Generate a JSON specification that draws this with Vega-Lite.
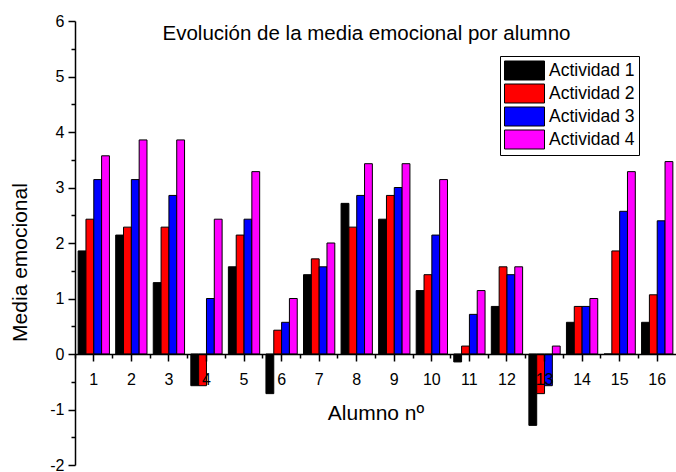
{
  "$schema": "https://vega.github.io/schema/vega-lite/v6.json",
  "width": 601,
  "height": 444,
  "autosize": {"type": "none"},
  "padding": {"left": 75, "top": 21, "right": 0, "bottom": 7},
  "background": "white",
  "config": {
    "view": {"stroke": null},
    "font": "Liberation Sans",
    "axis": {
      "grid": false,
      "domainColor": "black",
      "tickColor": "black",
      "labelColor": "black",
      "titleColor": "black",
      "labelFont": "Liberation Sans",
      "titleFont": "Liberation Sans",
      "titleFontWeight": "normal"
    }
  },
  "title": {
    "text": "Evolución de la media emocional por alumno",
    "font": "Liberation Sans",
    "fontSize": 20.5,
    "fontWeight": "normal",
    "color": "black",
    "anchor": "middle",
    "frame": "group",
    "dx": -9,
    "offset": 0,
    "baseline": "alphabetic",
    "dy": 47
  },
  "data": {
    "values": [
      {"alumno": 1, "actividad": "Actividad 1", "media": 1.857},
      {"alumno": 1, "actividad": "Actividad 2", "media": 2.429},
      {"alumno": 1, "actividad": "Actividad 3", "media": 3.143},
      {"alumno": 1, "actividad": "Actividad 4", "media": 3.571},
      {"alumno": 2, "actividad": "Actividad 1", "media": 2.143},
      {"alumno": 2, "actividad": "Actividad 2", "media": 2.286},
      {"alumno": 2, "actividad": "Actividad 3", "media": 3.143},
      {"alumno": 2, "actividad": "Actividad 4", "media": 3.857},
      {"alumno": 3, "actividad": "Actividad 1", "media": 1.286},
      {"alumno": 3, "actividad": "Actividad 2", "media": 2.286},
      {"alumno": 3, "actividad": "Actividad 3", "media": 2.857},
      {"alumno": 3, "actividad": "Actividad 4", "media": 3.857},
      {"alumno": 4, "actividad": "Actividad 1", "media": -0.571},
      {"alumno": 4, "actividad": "Actividad 2", "media": -0.571},
      {"alumno": 4, "actividad": "Actividad 3", "media": 1.0},
      {"alumno": 4, "actividad": "Actividad 4", "media": 2.429},
      {"alumno": 5, "actividad": "Actividad 1", "media": 1.571},
      {"alumno": 5, "actividad": "Actividad 2", "media": 2.143},
      {"alumno": 5, "actividad": "Actividad 3", "media": 2.429},
      {"alumno": 5, "actividad": "Actividad 4", "media": 3.286},
      {"alumno": 6, "actividad": "Actividad 1", "media": -0.714},
      {"alumno": 6, "actividad": "Actividad 2", "media": 0.429},
      {"alumno": 6, "actividad": "Actividad 3", "media": 0.571},
      {"alumno": 6, "actividad": "Actividad 4", "media": 1.0},
      {"alumno": 7, "actividad": "Actividad 1", "media": 1.429},
      {"alumno": 7, "actividad": "Actividad 2", "media": 1.714},
      {"alumno": 7, "actividad": "Actividad 3", "media": 1.571},
      {"alumno": 7, "actividad": "Actividad 4", "media": 2.0},
      {"alumno": 8, "actividad": "Actividad 1", "media": 2.714},
      {"alumno": 8, "actividad": "Actividad 2", "media": 2.286},
      {"alumno": 8, "actividad": "Actividad 3", "media": 2.857},
      {"alumno": 8, "actividad": "Actividad 4", "media": 3.429},
      {"alumno": 9, "actividad": "Actividad 1", "media": 2.429},
      {"alumno": 9, "actividad": "Actividad 2", "media": 2.857},
      {"alumno": 9, "actividad": "Actividad 3", "media": 3.0},
      {"alumno": 9, "actividad": "Actividad 4", "media": 3.429},
      {"alumno": 10, "actividad": "Actividad 1", "media": 1.143},
      {"alumno": 10, "actividad": "Actividad 2", "media": 1.429},
      {"alumno": 10, "actividad": "Actividad 3", "media": 2.143},
      {"alumno": 10, "actividad": "Actividad 4", "media": 3.143},
      {"alumno": 11, "actividad": "Actividad 1", "media": -0.143},
      {"alumno": 11, "actividad": "Actividad 2", "media": 0.143},
      {"alumno": 11, "actividad": "Actividad 3", "media": 0.714},
      {"alumno": 11, "actividad": "Actividad 4", "media": 1.143},
      {"alumno": 12, "actividad": "Actividad 1", "media": 0.857},
      {"alumno": 12, "actividad": "Actividad 2", "media": 1.571},
      {"alumno": 12, "actividad": "Actividad 3", "media": 1.429},
      {"alumno": 12, "actividad": "Actividad 4", "media": 1.571},
      {"alumno": 13, "actividad": "Actividad 1", "media": -1.286},
      {"alumno": 13, "actividad": "Actividad 2", "media": -0.714},
      {"alumno": 13, "actividad": "Actividad 3", "media": -0.571},
      {"alumno": 13, "actividad": "Actividad 4", "media": 0.143},
      {"alumno": 14, "actividad": "Actividad 1", "media": 0.571},
      {"alumno": 14, "actividad": "Actividad 2", "media": 0.857},
      {"alumno": 14, "actividad": "Actividad 3", "media": 0.857},
      {"alumno": 14, "actividad": "Actividad 4", "media": 1.0},
      {"alumno": 15, "actividad": "Actividad 1", "media": 0},
      {"alumno": 15, "actividad": "Actividad 2", "media": 1.857},
      {"alumno": 15, "actividad": "Actividad 3", "media": 2.571},
      {"alumno": 15, "actividad": "Actividad 4", "media": 3.286},
      {"alumno": 16, "actividad": "Actividad 1", "media": 0.571},
      {"alumno": 16, "actividad": "Actividad 2", "media": 1.067},
      {"alumno": 16, "actividad": "Actividad 3", "media": 2.4},
      {"alumno": 16, "actividad": "Actividad 4", "media": 3.467}
    ]
  },
  "layer": [
    {
      "mark": {"type": "bar", "stroke": "black", "strokeWidth": 1},
      "encoding": {
        "x": {
          "field": "alumno",
          "type": "ordinal",
          "scale": {"paddingInner": 0, "paddingOuter": 0},
          "axis": {
            "orient": "bottom",
            "offset": -111,
            "title": "Alumno nº",
            "titleFontSize": 21,
            "titleY": 48,
            "labelFontSize": 16,
            "labelAngle": 0,
            "tickSize": 7,
            "labelPadding": 10,
            "domainWidth": 1.5,
            "tickWidth": 1.5,
            "zindex": 1
          }
        },
        "xOffset": {
          "field": "actividad",
          "type": "nominal",
          "scale": {"paddingInner": 0, "paddingOuter": 0.4}
        },
        "y": {
          "field": "media",
          "type": "quantitative",
          "scale": {"domain": [-2, 6], "nice": false, "zero": false},
          "axis": {
            "values": [-2, -1.5, -1, -0.5, 0, 0.5, 1, 1.5, 2, 2.5, 3, 3.5, 4, 4.5, 5, 5.5, 6],
            "labelExpr": "datum.value % 1 == 0 ? '' + datum.value : ''",
            "tickSize": {"expr": "datum.value % 1 == 0 ? 7 : 4"},
            "labelPadding": 4,
            "labelFontSize": 16,
            "labelOverlap": false,
            "labelFlush": false,
            "title": "Media emocional",
            "titleFontSize": 21,
            "titleX": -45,
            "titleY": 241,
            "domainWidth": 1.5,
            "tickWidth": 1.5
          }
        },
        "color": {
          "field": "actividad",
          "type": "nominal",
          "scale": {
            "domain": ["Actividad 1", "Actividad 2", "Actividad 3", "Actividad 4"],
            "range": ["#000000", "#ff0000", "#0000ff", "#ff00ff"]
          },
          "legend": {
            "orient": "none",
            "legendX": 425,
            "legendY": 35,
            "title": null,
            "labelFontSize": 17.5,
            "labelFont": "Liberation Sans",
            "labelColor": "black",
            "symbolType": "M-1,-0.95H3V0.95H-1Z",
            "symbolSize": 400,
            "symbolStrokeColor": "black",
            "symbolStrokeWidth": 1,
            "symbolOpacity": 1,
            "labelOffset": 24,
            "rowPadding": 0,
            "padding": 4,
            "strokeColor": "black",
            "fillColor": "white"
          }
        }
      }
    },
    {
      "mark": {"type": "rule", "opacity": 0},
      "encoding": {
        "x": {
          "field": "alumno",
          "type": "ordinal",
          "axis": {
            "orient": "bottom",
            "offset": -111,
            "bandPosition": 0,
            "labels": false,
            "domain": false,
            "title": null,
            "tickSize": 4,
            "tickWidth": 1.5
          }
        }
      }
    }
  ],
  "resolve": {"axis": {"x": "independent"}}
}
